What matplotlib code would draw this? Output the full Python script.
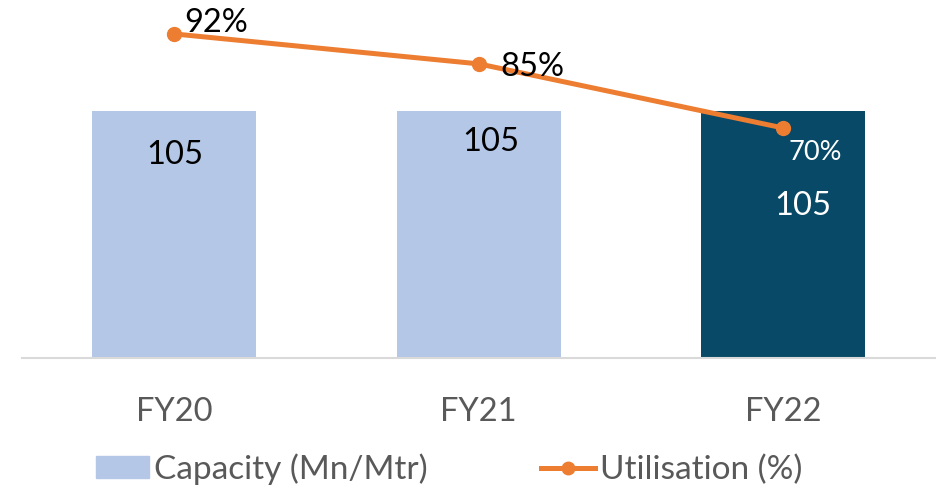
import matplotlib.pyplot as plt
from matplotlib.patches import Patch
from matplotlib.lines import Line2D

plt.rcParams['font.family'] = ['Lato', 'DejaVu Sans']

years = ['FY20', 'FY21', 'FY22']
capacity = [105, 105, 105]
utilisation = [92, 85, 70]

bar_colors = ['#b4c7e7', '#b4c7e7', '#074966']
orange = '#ed7d31'

fig = plt.figure(figsize=(9.36, 4.88), dpi=100)
ax = fig.add_axes([22 / 936, 130 / 488, 913.5 / 936, 348 / 488])
x = range(len(years))

ax.bar(x, capacity, width=0.54, color=bar_colors, zorder=2)
ax.set_xlim(-0.5, 2.5)
ax.set_ylim(0, 148)
ax.set_yticks([])
ax.set_xticks(list(x))
ax.set_xticklabels(years, fontsize=23.5, color='#595959')
ax.tick_params(axis='x', length=0, pad=28)
for s in ['top', 'right', 'left']:
    ax.spines[s].set_visible(False)
ax.spines['bottom'].set_color('#d9d9d9')
ax.spines['bottom'].set_linewidth(1.5)

# capacity labels
cap_offsets = [(1, -44), (12, -31), (20, -95)]
cap_colors = ['black', 'black', 'white']
for i, v in enumerate(capacity):
    ax.annotate(f'{v}', (i, v), xytext=cap_offsets[i], textcoords='offset pixels',
                ha='center', va='center', fontsize=23.5, color=cap_colors[i])

ax2 = ax.twinx()
ax2.set_ylim(16.2, 97.6)
ax2.set_yticks([])
for s in ax2.spines.values():
    s.set_visible(False)
ax2.plot(x, utilisation, color=orange, lw=3.6, marker='o', markersize=10,
         solid_capstyle='round', zorder=3)

# utilisation labels
util_offsets = [(42, 11), (54, -3), (32, -25)]
util_colors = ['black', 'black', 'white']
util_sizes = [23.5, 23.5, 19.5]
for i, v in enumerate(utilisation):
    ax2.annotate(f'{v}%', (i, v), xytext=util_offsets[i], textcoords='offset pixels',
                 ha='center', va='center', fontsize=util_sizes[i], color=util_colors[i])

handles = [Patch(color='#b4c7e7'),
           Line2D([], [], color=orange, lw=3.6, marker='o', markersize=9)]
fig.legend(handles, ['Capacity (Mn/Mtr)', 'Utilisation (%)'], loc='center',
           bbox_to_anchor=(449 / 936, 1 - 469 / 488), ncol=2, frameon=False,
           fontsize=24, labelcolor='#595959', handlelength=1.6, handleheight=0.6,
           handletextpad=0.15, columnspacing=3.4)

fig.savefig('out.png', dpi=100)
